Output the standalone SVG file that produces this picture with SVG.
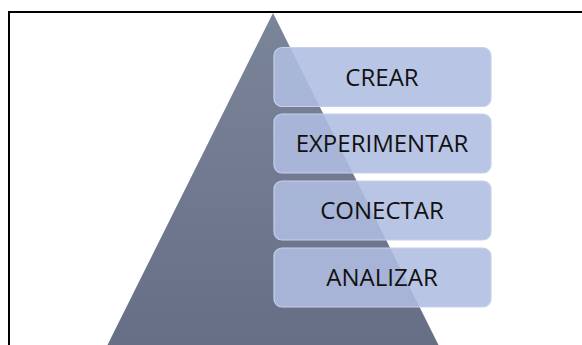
<svg xmlns="http://www.w3.org/2000/svg" width="582" height="345" viewBox="0 0 582 345">
  <defs>
    <linearGradient id="tri" x1="0" y1="0" x2="0" y2="1">
      <stop offset="0" stop-color="#7b8599"/>
      <stop offset="1" stop-color="#666e86"/>
    </linearGradient>
    <style>
      .box { fill: #afbde1; fill-opacity: 0.88; stroke: #c8d1ea; stroke-width: 1.2; }
      .lbl { font-family: "Open Sans", "Liberation Sans", sans-serif; font-size: 24px; fill: #111111; text-anchor: middle; }
    </style>
  </defs>
  <rect x="0" y="0" width="582" height="345" fill="#ffffff"/>
  <rect x="9" y="12" width="620" height="400" fill="none" stroke="#000000" stroke-width="2"/>
  <g id="pyramid">
    <polygon points="273,13 104,352 442,352" fill="url(#tri)"/>
  </g>
  <g id="crear">
    <rect class="box" x="274" y="47.5" width="217" height="59" rx="8"/>
    <text class="lbl" x="382" y="85.5">CREAR</text>
  </g>
  <g id="experimentar">
    <rect class="box" x="274" y="114" width="217" height="59" rx="8"/>
    <text class="lbl" x="382" y="152">EXPERIMENTAR</text>
  </g>
  <g id="conectar">
    <rect class="box" x="274" y="181" width="217" height="59" rx="8"/>
    <text class="lbl" x="382" y="219">CONECTAR</text>
  </g>
  <g id="analizar">
    <rect class="box" x="274" y="248" width="217" height="59" rx="8"/>
    <text class="lbl" x="382" y="286">ANALIZAR</text>
  </g>
  <g id="connectors"/>
</svg>
